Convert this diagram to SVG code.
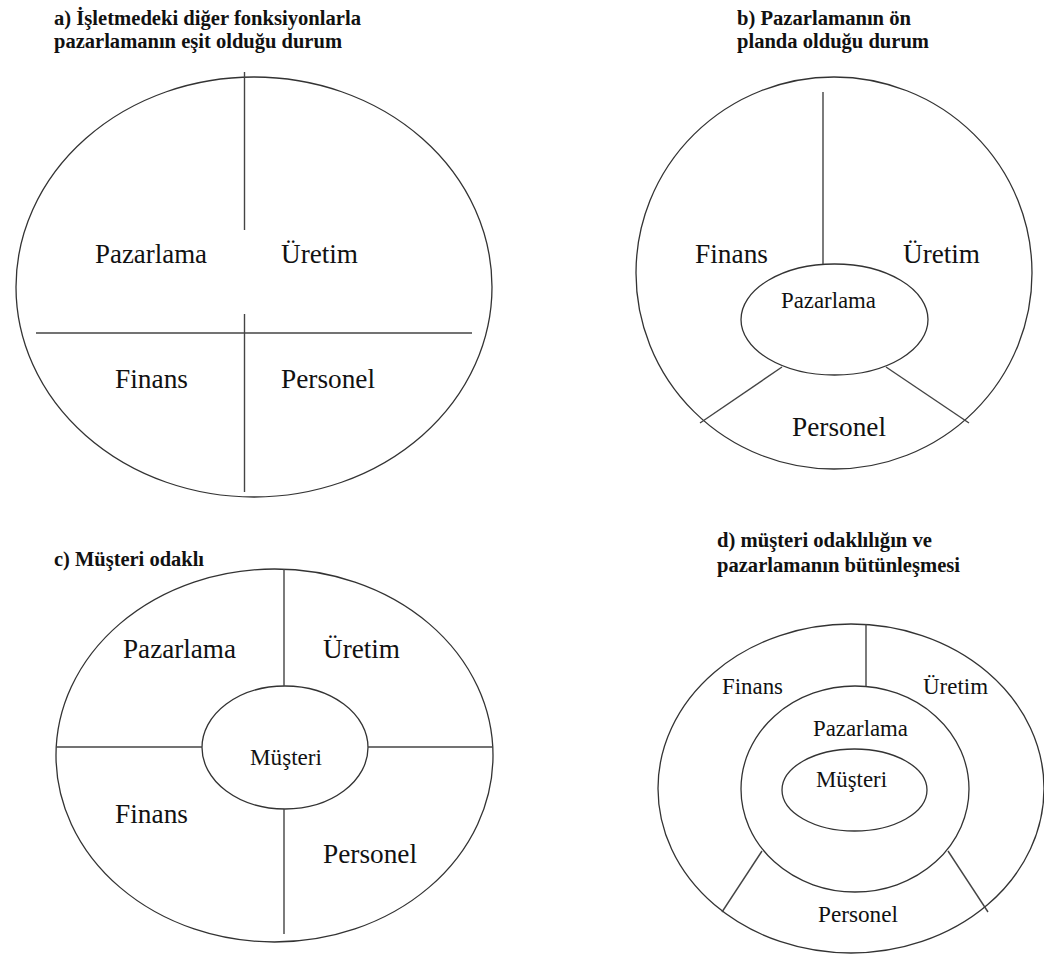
<svg xmlns="http://www.w3.org/2000/svg" width="1044" height="955" viewBox="0 0 1044 955">
  <style>
    .shape { fill: none; stroke: #333; stroke-width: 1.3; }
    .div { stroke: #444; stroke-width: 1.4; fill: none; }
    text { font-family: 'Liberation Serif', 'Times New Roman', Times, 'Noto Serif', 'DejaVu Serif', FreeSerif, serif; fill: #111; }
    .title { font-weight: bold; font-size: 20px; }
    .lbl { font-size: 27px; }
    .sm { font-size: 23px; }
  </style>
  <rect width="1044" height="955" fill="#fff"/>

  <!-- Titles -->
  <g id="titles">
    <text class="title" x="54" y="25" textLength="307" lengthAdjust="spacingAndGlyphs">a) İşletmedeki diğer fonksiyonlarla</text>
    <text class="title" x="54" y="48" textLength="288" lengthAdjust="spacingAndGlyphs">pazarlamanın eşit olduğu durum</text>
    <text class="title" x="737" y="25" textLength="174" lengthAdjust="spacingAndGlyphs">b) Pazarlamanın ön</text>
    <text class="title" x="737" y="48" textLength="192" lengthAdjust="spacingAndGlyphs">planda olduğu durum</text>
    <text class="title" x="54" y="566" textLength="150" lengthAdjust="spacingAndGlyphs">c) Müşteri odaklı</text>
    <text class="title" x="717" y="547" textLength="215" lengthAdjust="spacingAndGlyphs">d) müşteri odaklılığın ve</text>
    <text class="title" x="717" y="572" textLength="243" lengthAdjust="spacingAndGlyphs">pazarlamanın bütünleşmesi</text>
  </g>

  <!-- a) equal functions -->
  <g id="diagram-a">
    <ellipse class="shape" cx="254" cy="287" rx="238" ry="210"/>
    <text class="lbl" x="95" y="263" textLength="112" lengthAdjust="spacingAndGlyphs">Pazarlama</text>
    <text class="lbl" x="281" y="263" textLength="77" lengthAdjust="spacingAndGlyphs">Üretim</text>
    <text class="lbl" x="115" y="388" textLength="73" lengthAdjust="spacingAndGlyphs">Finans</text>
    <text class="lbl" x="281" y="388" textLength="94" lengthAdjust="spacingAndGlyphs">Personel</text>
  </g>

  <!-- b) marketing in front -->
  <g id="diagram-b">
    <ellipse class="shape" cx="834" cy="273" rx="198" ry="196"/>
    <ellipse id="b-pazarlama" class="shape" cx="834.5" cy="319.5" rx="93.5" ry="55.5"/>
    <text class="lbl" x="695" y="263" textLength="73" lengthAdjust="spacingAndGlyphs">Finans</text>
    <text class="lbl" x="903" y="263" textLength="77" lengthAdjust="spacingAndGlyphs">Üretim</text>
    <text class="sm" x="781" y="308" textLength="95" lengthAdjust="spacingAndGlyphs">Pazarlama</text>
    <text class="lbl" x="792" y="436" textLength="94" lengthAdjust="spacingAndGlyphs">Personel</text>
  </g>

  <!-- c) customer focused -->
  <g id="diagram-c">
    <ellipse class="shape" cx="274.5" cy="755.5" rx="218.5" ry="186.5"/>
    <ellipse id="c-musteri" class="shape" cx="285" cy="747.5" rx="83" ry="61.5"/>
    <text class="lbl" x="123" y="658" textLength="113" lengthAdjust="spacingAndGlyphs">Pazarlama</text>
    <text class="lbl" x="323" y="658" textLength="77" lengthAdjust="spacingAndGlyphs">Üretim</text>
    <text class="sm" x="250" y="765" textLength="72" lengthAdjust="spacingAndGlyphs">Müşteri</text>
    <text class="lbl" x="115" y="823" textLength="73" lengthAdjust="spacingAndGlyphs">Finans</text>
    <text class="lbl" x="323" y="863" textLength="94" lengthAdjust="spacingAndGlyphs">Personel</text>
  </g>

  <!-- d) customer focus integrated with marketing -->
  <g id="diagram-d">
    <ellipse class="shape" cx="851" cy="788.5" rx="193" ry="164.5"/>
    <ellipse id="d-pazarlama" class="shape" cx="855" cy="789" rx="114" ry="103"/>
    <ellipse id="d-musteri" class="shape" cx="854.5" cy="790" rx="72.5" ry="41"/>
    <text class="sm" x="722" y="694" textLength="61" lengthAdjust="spacingAndGlyphs">Finans</text>
    <text class="sm" x="923" y="694" textLength="65" lengthAdjust="spacingAndGlyphs">Üretim</text>
    <text class="sm" x="813" y="736" textLength="95" lengthAdjust="spacingAndGlyphs">Pazarlama</text>
    <text class="sm" x="816" y="787" textLength="71" lengthAdjust="spacingAndGlyphs">Müşteri</text>
    <text class="sm" x="818" y="922" textLength="80" lengthAdjust="spacingAndGlyphs">Personel</text>
  </g>

  <!-- Dividing lines between segments -->
  <g id="connectors">
    <line class="div" x1="244.5" y1="72" x2="244.5" y2="230"/>
    <line class="div" x1="244.5" y1="314" x2="244.5" y2="492"/>
    <line class="div" x1="36" y1="333" x2="472" y2="333"/>

    <line class="div" x1="823" y1="92" x2="823" y2="264"/>
    <line class="div" x1="782" y1="367" x2="700" y2="423"/>
    <line class="div" x1="886" y1="367" x2="969" y2="423"/>

    <line class="div" x1="284" y1="569" x2="284" y2="686"/>
    <line class="div" x1="284" y1="809" x2="284" y2="934"/>
    <line class="div" x1="56" y1="747" x2="202" y2="747"/>
    <line class="div" x1="368" y1="747" x2="493" y2="747"/>

    <line class="div" x1="866" y1="624" x2="866" y2="686"/>
    <line class="div" x1="762" y1="851" x2="722" y2="912"/>
    <line class="div" x1="948" y1="851" x2="988" y2="912"/>
  </g>
</svg>
